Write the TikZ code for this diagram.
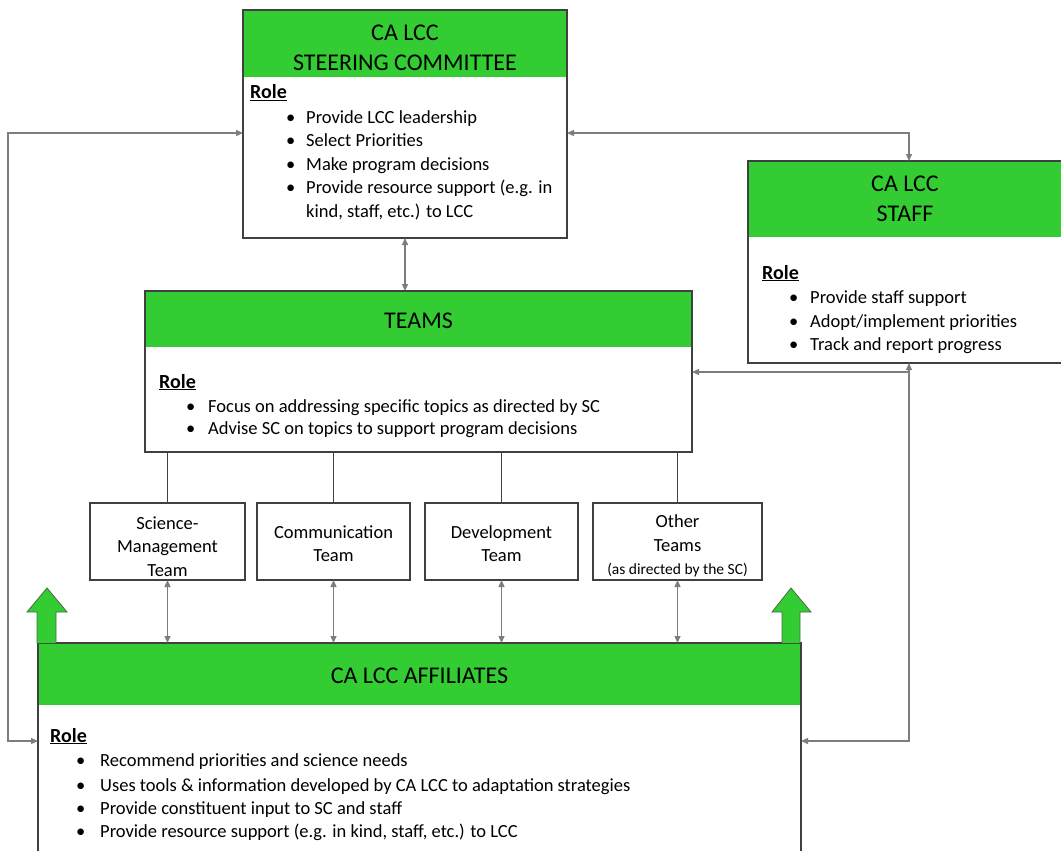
\documentclass[tikz,border=0pt]{standalone}
\usepackage{fontspec}
\setmainfont{Carlito}
\usetikzlibrary{arrows.meta,calc}
\definecolor{hdrgreen}{RGB}{51,204,51}
\definecolor{boxline}{RGB}{64,64,64}
\definecolor{conn}{RGB}{125,125,125}
\definecolor{arrline}{RGB}{70,110,70}
\tikzset{
  box/.style={draw=boxline, line width=1.6pt, anchor=north west, inner sep=0pt, outer sep=0pt},
  hdr/.style={fill=hdrgreen, anchor=north west, inner sep=0pt, outer sep=0pt},
  hdrtext/.style={font=\fontsize{24}{30}\selectfont, align=center, inner sep=0pt},
  roletext/.style={font=\bfseries\fontsize{20}{24}\selectfont, anchor=base west, inner sep=0pt},
  bul/.style={font=\fontsize{18.5}{23.5}\selectfont, anchor=base west, inner sep=0pt, align=left},
  team/.style={box},
  teamtext/.style={font=\fontsize{18.5}{23.5}\selectfont, align=center, inner sep=0pt},
  link/.style={draw=conn, line width=1.3pt},
  tip/.tip={Triangle[width=6pt,length=7pt]},
  dlink/.style={link, tip-tip},
  llink/.style={link, tip-},
  stem/.style={draw=boxline, line width=1.2pt},
  uparrow/.style={fill=hdrgreen, draw=arrline, line width=0.8pt, line join=miter}
}
\newcommand{\bpt}[1]{\makebox[#1][l]{\textbullet}}
\begin{document}
\begin{tikzpicture}[x=1pt,y=-1pt]
\useasboundingbox (0,0) rectangle (1061,851);

% ---------- Steering committee ----------
\node[hdr, minimum width=324pt, minimum height=67pt] (schdr) at (243,10) {};
\node[box, minimum width=324pt, minimum height=228pt] (sc) at (243,10) {};
\node[hdrtext] (sctitle) at (405,48) {CA LCC\\STEERING COMMITTEE};
\node[roletext] (scrole) at (250,99) {\underline{Role}};
\node[bul] (sc1) at (286,123) {\bpt{20pt}Provide LCC leadership};
\node[bul] (sc2) at (286,146.5) {\bpt{20pt}Select Priorities};
\node[bul] (sc3) at (286,170) {\bpt{20pt}Make program decisions};
\node[bul] (sc4) at (286,193.5) {\bpt{20pt}Provide resource support (e.g. in};
\node[bul] (sc4b) at (306,217) {kind, staff, etc.) to LCC};

% ---------- Staff ----------
\node[hdr, minimum width=314pt, minimum height=76pt] (sthdr) at (748,161) {};
\node[box, minimum width=314pt, minimum height=202pt] (staff) at (748,161) {};
\node[hdrtext] (sttitle) at (905,199) {CA LCC\\STAFF};
\node[roletext] (strole) at (762,279) {\underline{Role}};
\node[bul] (st1) at (789,303) {\bpt{21pt}Provide staff support};
\node[bul] (st2) at (789,327) {\bpt{21pt}Adopt/implement priorities};
\node[bul] (st3) at (789,350.5) {\bpt{21pt}Track and report progress};

% ---------- Teams ----------
\node[hdr, minimum width=547pt, minimum height=56pt] (tmhdr) at (145,291) {};
\node[box, minimum width=547pt, minimum height=161pt] (teams) at (145,291) {};
\node[hdrtext] (tmtitle) at (418.5,321) {TEAMS};
\node[roletext] (tmrole) at (159,388) {\underline{Role}};
\node[bul] (tm1) at (186,412) {\bpt{22pt}Focus on addressing specific topics as directed by SC};
\node[bul] (tm2) at (186,434) {\bpt{22pt}Advise SC on topics to support program decisions};

% ---------- Individual teams ----------
\node[team, minimum width=155pt, minimum height=77pt] (t1) at (90,503) {};
\node[team, minimum width=153pt, minimum height=77pt] (t2) at (257,503) {};
\node[team, minimum width=153pt, minimum height=77pt] (t3) at (425,503) {};
\node[team, minimum width=169pt, minimum height=77pt] (t4) at (593,503) {};
\node[teamtext] (t1l) at (167.5,546.5) {Science-\\Management\\Team};
\node[teamtext] (t2l) at (333.5,543.5) {Communication\\Team};
\node[teamtext] (t3l) at (501.5,543.5) {Development\\Team};
\node[teamtext] (t4l) at (677.5,546) {Other\\Teams\\{\fontsize{15.5}{18}\selectfont(as directed by the SC)}};

% ---------- Affiliates ----------
\node[hdr, minimum width=763pt, minimum height=62pt] (afhdr) at (38,643) {};
\node[box, minimum width=763pt, minimum height=220pt] (aff) at (38,643) {};
\node[hdrtext] (aftitle) at (419.5,676) {CA LCC AFFILIATES};
\node[roletext] (afrole) at (50,742) {\underline{Role}};
\node[bul] (af1) at (76,766) {\bpt{24pt}Recommend priorities and science needs};
\node[bul] (af2) at (76,791) {\bpt{24pt}Uses tools \& information developed by CA LCC to adaptation strategies};
\node[bul] (af3) at (76,814) {\bpt{24pt}Provide constituent input to SC and staff};
\node[bul] (af4) at (76,837.5) {\bpt{24pt}Provide resource support (e.g. in kind, staff, etc.) to LCC};

% ---------- Green up arrows ----------
\draw[uparrow] (37,643) -- (37,612) -- (27,612) -- (47,588) -- (67,612) -- (56,612) -- (56,643);
\draw[uparrow] (782,643) -- (782,612) -- (772,612) -- (791,588) -- (811,612) -- (800,612) -- (800,643);

% ---------- Connectors ----------
\coordinate (lc1) at (8,133);
\coordinate (lc2) at (8,741);
\draw[dlink] ($(sc.north west)+(0,123)$) -- (lc1) -- (lc2) -- ($(aff.north west)+(0,98)$);

\coordinate (rc1) at (909,133);
\draw[dlink] ($(sc.north east)+(0,123)$) -- (rc1) -- (rc1 |- staff.north);

\draw[dlink] (sc.south) -- (sc.south |- teams.north);

\coordinate (rc2) at (909,372);
\coordinate (rc3) at (909,741);
\draw[llink] (teams.east |- rc2) -- (rc2);
\draw[dlink] (rc2 |- staff.south) -- (rc3) -- (aff.east |- rc3);

\foreach \t in {t1,t2,t3,t4}{
  \draw[stem] (\t.north) -- (\t.north |- teams.south);
  \draw[dlink] (\t.south) -- (\t.south |- aff.north);
}
\end{tikzpicture}
\end{document}
